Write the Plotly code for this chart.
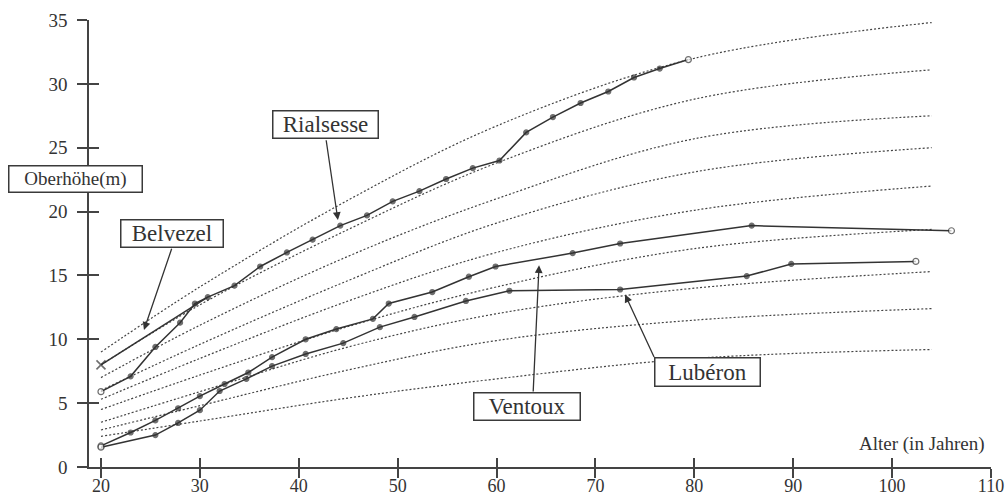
import plotly.graph_objects as go

# ---------------- data ----------------
# site-index guide curves (dotted), read at these ages
guide_ages = [20, 30, 45, 60, 80, 104]
guide_c1 = [9.0, 14.1, 20.9, 26.7, 32.0, 34.8]
guide_c2 = [8.0, 12.7, 18.6, 23.8, 28.8, 31.1]
guide_c3 = [7.0, 11.1, 16.5, 21.0, 25.7, 27.5]
guide_c4 = [6.0, 9.6, 14.6, 19.1, 23.1, 25.0]
guide_c5 = [5.3, 8.5, 13.0, 16.8, 20.1, 22.0]
guide_c6 = [4.5, 7.2, 11.0, 14.1, 17.1, 18.6]
guide_c7 = [3.5, 5.9, 9.4, 12.0, 14.0, 15.3]
guide_c8 = [2.9, 4.8, 7.6, 9.9, 11.5, 12.4]
guide_c9 = [2.4, 3.6, 5.4, 6.9, 8.5, 9.2]

belvezel_age = [20, 30.8]
belvezel_h = [8.0, 13.3]

rialsesse_age = [20, 23, 25.5, 28, 29.5, 30.8, 33.5, 36.1, 38.8, 41.4, 44.2, 46.9,
                 49.5, 52.2, 54.9, 57.6, 60.3, 63.0, 65.7, 68.5, 71.3, 73.9, 76.5, 79.4]
rialsesse_h = [5.9, 7.1, 9.4, 11.3, 12.8, 13.3, 14.2, 15.7, 16.8, 17.8, 18.9, 19.7,
               20.8, 21.6, 22.55, 23.4, 24.0, 26.2, 27.4, 28.5, 29.4, 30.5, 31.2, 31.9]

ventoux_age = [20, 23, 25.5, 27.8, 30, 32.5, 34.9, 37.3, 40.7, 43.8, 47.5, 49.1,
               53.5, 57.2, 59.9, 67.7, 72.5, 85.8, 106]
ventoux_h = [1.65, 2.7, 3.65, 4.6, 5.55, 6.5, 7.4, 8.6, 10.0, 10.8, 11.6, 12.8,
             13.7, 14.9, 15.7, 16.75, 17.5, 18.9, 18.5]

luberon_age = [20, 25.5, 27.8, 30, 32, 34.7, 37.3, 40.7, 44.5, 48.2, 51.7, 56.9,
               61.3, 72.5, 85.3, 89.8, 102.4]
luberon_h = [1.55, 2.5, 3.45, 4.45, 5.95, 6.9, 7.9, 8.85, 9.7, 10.95, 11.75, 13.0,
             13.8, 13.9, 14.95, 15.9, 16.1]

x_ticks = [20, 30, 40, 50, 60, 70, 80, 90, 100, 110]
y_ticks = [0, 5, 10, 15, 20, 25, 30, 35]

# ---------------- style ----------------
SERIF = "Liberation Serif, Times New Roman, serif"
INK = "#333333"
X_RANGE = [18.79, 110]
Y_RANGE = [0, 35]

fig = go.Figure()

for ys in [guide_c1, guide_c2, guide_c3, guide_c4, guide_c5,
           guide_c6, guide_c7, guide_c8, guide_c9]:
    fig.add_trace(go.Scatter(
        x=guide_ages, y=ys, mode="lines",
        line=dict(color="#444444", width=1.2, dash="2px,2px", shape="spline", smoothing=1.0),
        hoverinfo="skip", showlegend=False))


def series(xs, ys, name):
    n = len(xs)
    colors = ["white"] + [INK] * (n - 2) + ["white"]
    sizes = [6] + [5] * (n - 2) + [6]
    fig.add_trace(go.Scatter(
        x=xs, y=ys, mode="lines+markers", name=name,
        line=dict(color=INK, width=1.5),
        marker=dict(color=colors, size=sizes, symbol="circle",
                    line=dict(color=INK, width=1.2)),
        showlegend=False))


fig.add_trace(go.Scatter(
    x=belvezel_age, y=belvezel_h, mode="lines+markers", name="Belvezel",
    line=dict(color=INK, width=1.5),
    marker=dict(symbol="x-thin", size=[9, 0], color=INK, line=dict(color=INK, width=1.6)),
    showlegend=False))
series(rialsesse_age, rialsesse_h, "Rialsesse")
series(ventoux_age, ventoux_h, "Ventoux")
series(luberon_age, luberon_h, "Lubéron")

# overlay axes to give ticks crossing the axis lines
fig.add_trace(go.Scatter(x=[], y=[], xaxis="x2", yaxis="y2", showlegend=False))

annotations = []
boxes = [
    # text, x, y, xref, width, height, size
    ("Oberhöhe(m)", -0.0155, 22.55, "paper", 130, 23, 19),
    ("Belvezel", 27.2, 18.3, "x", 99, 24, 23),
    ("Rialsesse", 42.75, 26.8, "x", 102, 24, 23),
    ("Ventoux", 63.1, 4.7, "x", 103, 24, 23),
    ("Lubéron", 81.3, 7.4, "x", 102, 25, 23),
]
for text, x, y, xref, w, h, size in boxes:
    annotations.append(dict(
        text=text, x=x, y=y, xref=xref, yref="y", showarrow=False,
        xanchor="center", yanchor="middle", width=w, height=h,
        bgcolor="white", bordercolor="#3a3a3a", borderwidth=1.5, borderpad=1,
        font=dict(family=SERIF, size=size, color=INK)))

arrows = [
    # tip (x, y), tail (ax, ay)
    (24.35, 10.73, 27.2, 17.2),
    (43.96, 19.34, 42.75, 25.7),
    (64.3, 15.8, 63.7, 5.8),
    (73.0, 13.5, 76.0, 8.5),
]
for x, y, ax, ay in arrows:
    annotations.append(dict(
        text="", x=x, y=y, xref="x", yref="y", ax=ax, ay=ay, axref="x", ayref="y",
        showarrow=True, arrowhead=2, arrowsize=1.2, arrowwidth=1.3,
        arrowcolor=INK, standoff=0, startstandoff=0))

annotations.append(dict(
    text="Alter (in Jahren)", x=103.0, y=1.8, xref="x", yref="y", showarrow=False,
    xanchor="center", yanchor="middle",
    font=dict(family=SERIF, size=19, color=INK)))

axis_common = dict(showgrid=False, zeroline=False, tickcolor="#444444", tickwidth=1.5,
                   automargin=False)

fig.update_layout(
    width=1008, height=501,
    margin=dict(l=89, r=17, t=20, b=34, autoexpand=False),
    paper_bgcolor="white", plot_bgcolor="white",
    showlegend=False,
    xaxis=dict(range=X_RANGE, tickmode="array", tickvals=x_ticks,
               ticks="outside", ticklen=9, showline=True, linecolor="#444444", linewidth=1.5,
               ticklabelstandoff=-7,
               tickfont=dict(family=SERIF, size=18, color=INK), **axis_common),
    yaxis=dict(range=Y_RANGE, tickmode="array", tickvals=y_ticks,
               ticks="outside", ticklen=10, showline=True, linecolor="#444444", linewidth=1.5,
               ticklabelstandoff=6,
               tickfont=dict(family=SERIF, size=19, color=INK), **axis_common),
    xaxis2=dict(range=X_RANGE, overlaying="x", anchor="y2", side="bottom",
                tickmode="array", tickvals=x_ticks, ticks="inside", ticklen=9,
                showticklabels=False, showline=False, **axis_common),
    yaxis2=dict(range=Y_RANGE, overlaying="y", anchor="x2", side="left",
                tickmode="array", tickvals=y_ticks, ticks="inside", ticklen=10,
                showticklabels=False, showline=False, **axis_common),
    annotations=annotations,
)

fig.write_html(
    "out.html",
    config={"displayModeBar": False},
    post_script="document.body.style.margin='0';document.body.style.overflow='hidden';",
)
